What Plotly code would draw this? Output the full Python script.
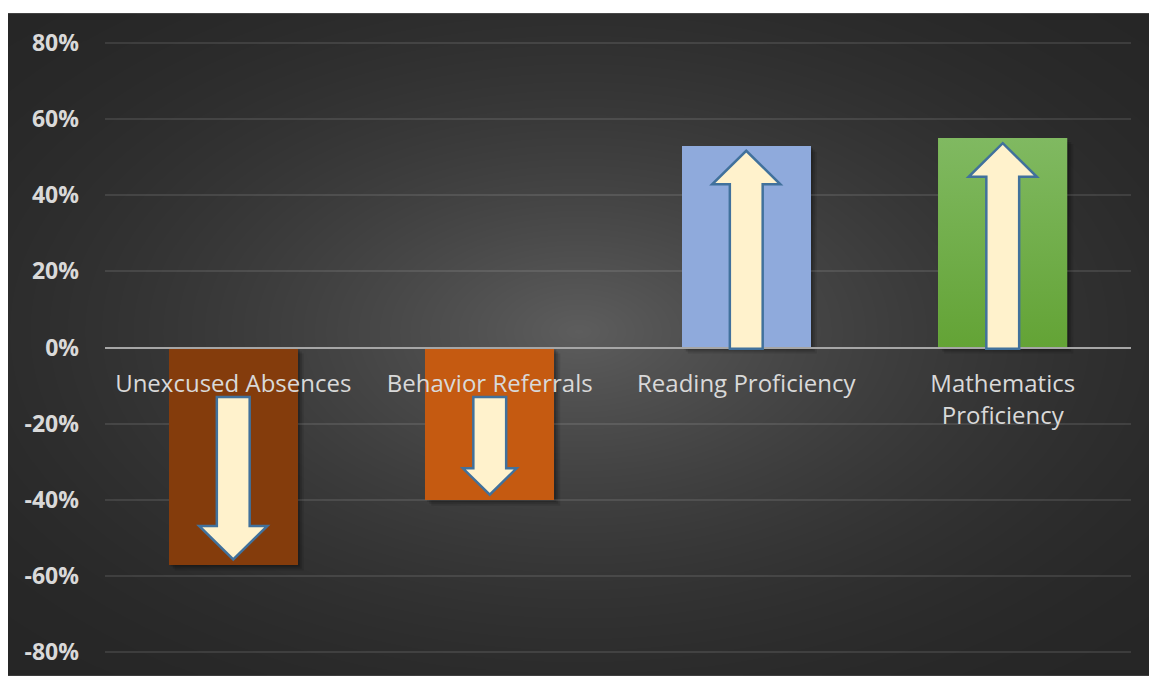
import base64
import struct
import zlib

import numpy as np
import plotly.graph_objects as go

# ---- data -------------------------------------------------------------
categories = ["Unexcused Absences", "Behavior Referrals", "Reading Proficiency",
              "Mathematics<br>Proficiency"]
change_pct = [-57, -40, 53, 55]
bar_colors = ["#843C0C", "#C55A11", "#8FAADC", "#70AD47"]
tick_values = [-80, -60, -40, -20, 0, 20, 40, 60, 80]
tick_labels = ["-80%", "-60%", "-40%", "-20%", "0%", "20%", "40%", "60%", "80%"]

W, H = 1149, 679
M_L, M_R, M_T, M_B = 105, 18, 41, 22
PLOT_W = W - M_L - M_R
PLOT_H = H - M_T - M_B
Y_PAD = 0.5                      # keeps the ±80% gridlines inside the plot area
BAR_W = 0.503


def gray_png_uri(arr):
    """Encode a 2-D uint8 array as an 8-bit grayscale PNG data URI."""
    h, w = arr.shape
    raw = b"".join(b"\x00" + arr[r].tobytes() for r in range(h))

    def chunk(tag, data):
        return (struct.pack(">I", len(data)) + tag + data
                + struct.pack(">I", zlib.crc32(tag + data) & 0xFFFFFFFF))

    png = (b"\x89PNG\r\n\x1a\n"
           + chunk(b"IHDR", struct.pack(">IIBBBBB", w, h, 8, 0, 0, 0, 0))
           + chunk(b"IDAT", zlib.compress(raw, 9))
           + chunk(b"IEND", b""))
    return "data:image/png;base64," + base64.b64encode(png).decode()


# radial background: light centre fading to dark charcoal corners
BG_X0, BG_Y0 = 8, 13
bg_w, bg_h = W - BG_X0, H - BG_Y0
yy, xx = np.mgrid[0:bg_h, 0:bg_w].astype(float)
cx, cy = bg_w * 0.5, bg_h * 0.48
t = np.sqrt(((xx - cx) / (bg_w / 2)) ** 2 + ((yy - cy) / (bg_h / 2)) ** 2) / np.sqrt(2)
t = np.clip(t, 0, 1)
shade = 38 + (93 - 38) * (1 - t) ** 1.75
bg_uri = gray_png_uri(np.round(shade).astype(np.uint8))

fig = go.Figure()

fig.add_trace(go.Bar(
    x=list(range(len(categories))), y=change_pct, width=BAR_W,
    marker=dict(color=bar_colors, line=dict(width=0)),
    hoverinfo="skip",
))

# vertical green gradient on the mathematics bar
mi = 3
fig.add_trace(go.Scatter(
    x=[mi - BAR_W / 2, mi + BAR_W / 2, mi + BAR_W / 2, mi - BAR_W / 2, mi - BAR_W / 2],
    y=[0, 0, change_pct[mi], change_pct[mi], 0],
    mode="lines", line=dict(width=0), fill="toself",
    fillgradient=dict(type="vertical", start=0, stop=change_pct[mi],
                      colorscale=[[0, "#63A335"], [1, "#80B961"]]),
    hoverinfo="skip", showlegend=False,
))

shapes = []
px_x = 1.0 / (PLOT_W / 4)                    # one pixel in category units
px_y = (160.0 + 2 * Y_PAD) / PLOT_H          # one pixel in percent units

# soft drop shadows behind each bar
for i, v in enumerate(change_pct):
    lo, hi = min(0, v), max(0, v)
    for k, op in ((6, 0.10), (4, 0.14), (2, 0.18)):
        shapes.append(dict(
            type="rect", xref="x", yref="y", layer="below",
            x0=i - BAR_W / 2 + k * px_x, x1=i + BAR_W / 2 + k * px_x,
            y0=lo - k * px_y, y1=hi - k * px_y,
            fillcolor=f"rgba(0,0,0,{op})", line=dict(width=0),
        ))

# block arrows inside the bars, pointing the direction of change
for i, v in enumerate(change_pct):
    s = 1 if v > 0 else -1
    start = -0.3 if v > 0 else -13.0
    tip = v - s * 1.35
    head_len = min(8.8, 0.27 * abs(tip - start))
    head_half = 0.0151 * head_len
    shaft_half = 0.064
    base = tip - s * head_len
    pts = [(i - shaft_half, start), (i - shaft_half, base), (i - head_half, base),
           (i, tip), (i + head_half, base), (i + shaft_half, base),
           (i + shaft_half, start)]
    path = "M " + " L ".join(f"{x:.4f},{y:.3f}" for x, y in pts) + " Z"
    shapes.append(dict(type="path", xref="x", yref="y", layer="above", path=path,
                       fillcolor="#FFF2CC", line=dict(color="#41719C", width=2.5)))

fig.update_layout(
    width=W, height=H,
    margin=dict(l=M_L, r=M_R, t=M_T, b=M_B, pad=0),
    paper_bgcolor="white", plot_bgcolor="rgba(0,0,0,0)",
    showlegend=False, bargap=0,
    shapes=shapes,
    images=[dict(
        source=bg_uri, xref="paper", yref="paper",
        x=(BG_X0 - M_L) / PLOT_W, y=1 + (M_T - BG_Y0) / PLOT_H,
        sizex=bg_w / PLOT_W, sizey=bg_h / PLOT_H,
        xanchor="left", yanchor="top", sizing="stretch", layer="below",
    )],
    xaxis=dict(
        range=[-0.5, 3.5], tickvals=list(range(len(categories))), ticktext=categories,
        anchor="free", position=0.5, showline=True, linecolor="#A6A6A6", linewidth=2,
        showgrid=False, zeroline=False, ticks="", ticklabelstandoff=15,
        tickfont=dict(family="Open Sans", size=24, color="#D9D9D9"),
        fixedrange=True,
    ),
    yaxis=dict(
        range=[-80 - Y_PAD, 80 + Y_PAD], tickvals=tick_values, ticktext=tick_labels,
        showgrid=True, gridcolor="rgba(255,255,255,0.10)", gridwidth=1.6,
        zeroline=False, showline=False, ticks="", ticklabelstandoff=25,
        tickfont=dict(family="Open Sans", size=23, color="#D9D9D9", weight="bold"),
        fixedrange=True,
    ),
)

fig.write_html("out.html", config={"displayModeBar": False})
